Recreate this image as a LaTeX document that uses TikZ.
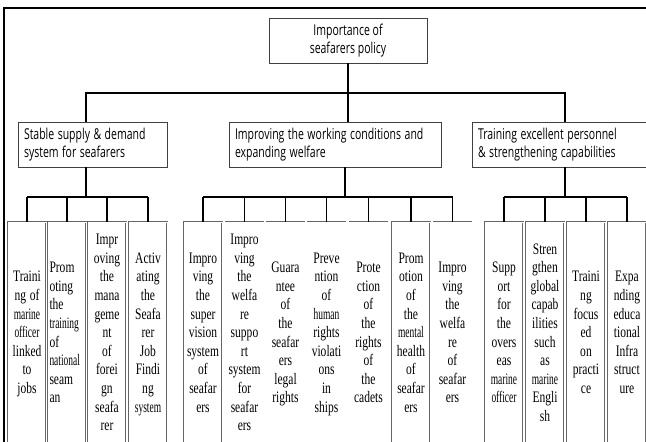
\documentclass[tikz,border=0pt]{standalone}
\usepackage{graphicx}
\usepackage{fontspec}
\setmainfont{Liberation Serif}
\newfontfamily\boxfont{Open Sans}
\usetikzlibrary{positioning}
\newcommand{\narrow}[2][c]{\scalebox{0.72}[1]{\begin{tabular}{@{}#1@{}}#2\end{tabular}}}
\newcommand{\wide}[2][l]{\scalebox{0.7}[1]{\begin{tabular}{@{}#1@{}}#2\end{tabular}}}
\newcommand{\sq}[1]{\scalebox{0.82}[1]{#1}}

\begin{document}
\begin{tikzpicture}[x = 1pt, y = -1pt,
    conn/.style = {line width = 1.1pt},
    topbox/.style = {draw = black!75, line width = 0.8pt, inner sep = 0pt, inner xsep = 6pt, minimum height = 45pt, font = \boxfont\fontsize{15}{18.3}\selectfont},
    leaf/.style = {draw = black!60, double = white, double distance = 0.9pt, line width = 0.5pt, inner sep = 0pt, text width = 38pt, minimum height = 224pt, align = center, font = \rmfamily\fontsize{16}{18.6}\selectfont}]
  \useasboundingbox (0,0) rectangle (646,442);
  \clip (0,0) rectangle (646,442);
  \draw[line width = 2pt] (4,8) rectangle (700,500);
    % Top levels
    \node[topbox, minimum width = 158pt, align = center] (root) at (348,40.5) {\wide[c]{Importance of\\seafarers policy}};
    \node[topbox, text width = 137pt, align = left] (mid1) at (92.5,144.5) {\wide{Stable supply \& demand\\system for seafarers}};
    \node[topbox, text width = 200pt, align = left] (mid2) at (335,144.5) {\wide{Improving the working conditions and\\expanding welfare}};
    \node[topbox, text width = 176pt, align = left] (mid3) at (566,144.5) {\wide{Training excellent personnel\\\& strengthening capabilities}};
    \coordinate (tl) at (86,93);
    \coordinate (tr) at (565,93);
    \coordinate (j1) at (86,197);
    \coordinate (j2) at (345,197);
    \coordinate (j3) at (565,197);
    \draw[conn] (root) -- (root |- mid2.north);
    \draw[conn] (tl |- mid1.north) -- (tl) -- (tr) -- (tr |- mid3.north);
    % Leaves
    \node[leaf] (l11) at (27,334) {\narrow{Traini\\ng of\\\sq{marine}\\\sq{officer}\\linked\\to\\jobs}};
    \node[leaf, align = left, text width = 35pt, inner xsep = 1.5pt] (l12) at (67,334) {\narrow[l]{Prom\\oting\\the\\\sq{training}\\of\\\sq{national}\\seam\\an}};
    \node[leaf] (l13) at (107,334) {\narrow{Impr\\oving\\the\\mana\\geme\\nt\\of\\forei\\gn\\seafa\\rer}};
    \node[leaf] (l14) at (148,334) {\narrow{Activ\\ating\\the\\Seafa\\rer\\Job\\Findi\\ng\\\sq{system}}};
    \node[leaf] (l21) at (203,334) {\narrow{Impro\\ving\\the\\super\\vision\\system\\of\\seafar\\ers}};
    \node[leaf] (l22) at (244.5,334) {\narrow{Impro\\ving\\the\\welfa\\re\\suppo\\rt\\system\\for\\seafar\\ers}};
    \node[leaf] (l23) at (285.5,334) {\narrow{Guara\\ntee\\of\\the\\seafar\\ers\\legal\\rights}};
    \node[leaf] (l24) at (326.5,334) {\narrow{Preve\\ntion\\of\\\sq{human}\\rights\\violati\\ons\\in\\ships}};
    \node[leaf] (l25) at (368.5,334) {\narrow{Prote\\ction\\of\\the\\rights\\of\\the\\cadets}};
    \node[leaf] (l26) at (411,334) {\narrow{Prom\\otion\\of\\the\\\sq{mental}\\health\\of\\seafar\\ers}};
    \node[leaf] (l27) at (452.5,334) {\narrow{Impro\\ving\\the\\welfa\\re\\of\\seafar\\ers}};
    \node[leaf] (l31) at (504,334) {\narrow{Supp\\ort\\for\\the\\overs\\eas\\\sq{marine}\\\sq{officer}}};
    \node[leaf] (l32) at (545,334) {\narrow{Stren\\gthen\\global\\capab\\ilities\\such\\as\\\sq{marine}\\Engli\\sh}};
    \node[leaf] (l33) at (586,334) {\narrow{Traini\\ng\\focus\\ed\\on\\practi\\ce}};
    \node[leaf] (l34) at (627,334) {\narrow{Expa\\nding\\educa\\tional\\Infra\\struct\\ure}};
    % Branches
    \draw[conn] (j1 |- mid1.south) -- (j1);
    \draw[conn] (j2 |- mid2.south) -- (j2);
    \draw[conn] (j3 |- mid3.south) -- (j3);
    \draw[conn] (l11.north |- j1) -- (l14.north |- j1);
    \draw[conn] (l21.north |- j2) -- (l27.north |- j2);
    \draw[conn] (l31.north |- j3) -- (l34.north |- j3);
    \foreach \n/\j in {l11/j1,l12/j1,l13/j1,l14/j1,l21/j2,l22/j2,l23/j2,l24/j2,l25/j2,l26/j2,l27/j2,l31/j3,l32/j3,l33/j3,l34/j3}
      \draw[conn] (\n.north) -- (\n.north |- \j);
\end{tikzpicture}
\end{document}
